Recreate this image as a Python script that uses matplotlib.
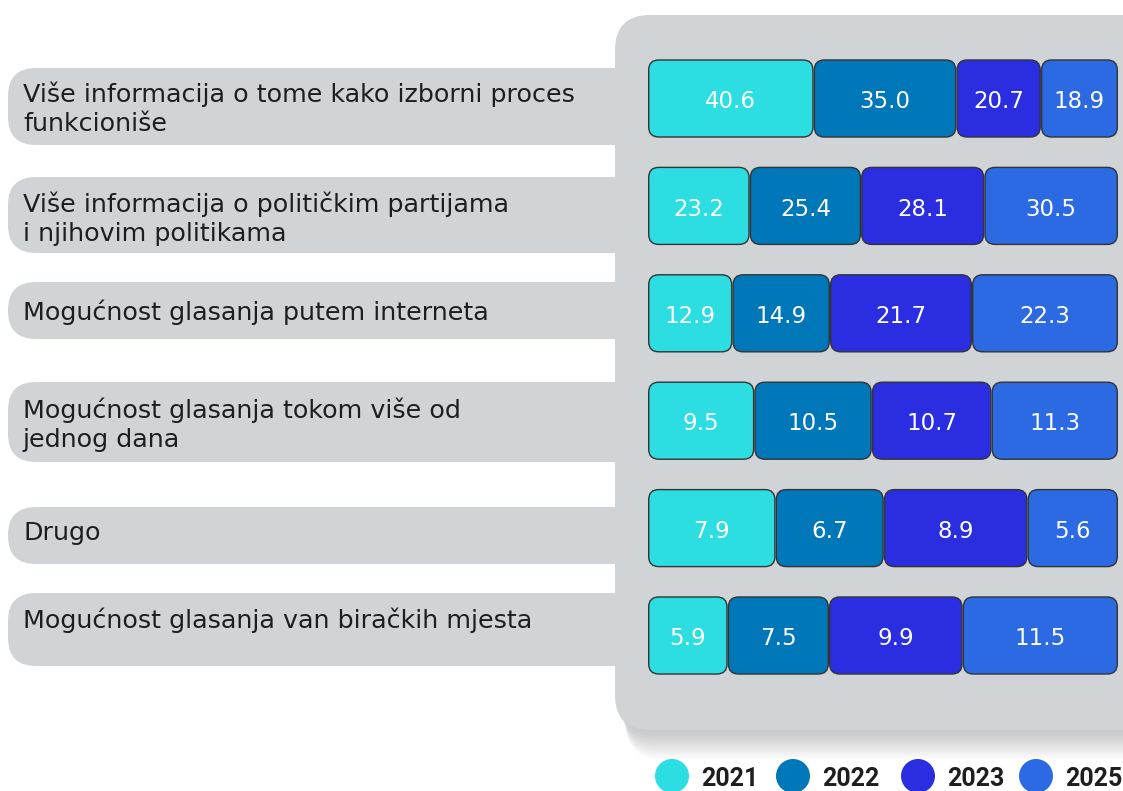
import matplotlib
matplotlib.use("Agg")
import matplotlib.pyplot as plt
from matplotlib.patches import FancyBboxPatch, Circle
import numpy as np

# ---------------- data ----------------
categories = [
    "Više informacija o tome kako izborni proces\nfunkcioniše",
    "Više informacija o političkim partijama\ni njihovim politikama",
    "Mogućnost glasanja putem interneta",
    "Mogućnost glasanja tokom više od\njednog dana",
    "Drugo",
    "Mogućnost glasanja van biračkih mjesta",
]
years = ["2021", "2022", "2023", "2025"]
v2021 = [40.6, 23.2, 12.9, 9.5, 7.9, 5.9]
v2022 = [35.0, 25.4, 14.9, 10.5, 6.7, 7.5]
v2023 = [20.7, 28.1, 21.7, 10.7, 8.9, 9.9]
v2025 = [18.9, 30.5, 22.3, 11.3, 5.6, 11.5]

# ---------------- style ----------------
colors = ["#2CDDE1", "#0077B8", "#2A2EE0", "#2C6AE4"]
panel_gray = "#D0D4D6"
font = "DejaVu Sans"
W, H = 1123, 791

fig = plt.figure(figsize=(W / 100, H / 100), dpi=100)
fig.patch.set_facecolor("white")

bg = fig.add_axes([0, 0, 1, 1])
bg.set_xlim(0, W)
bg.set_ylim(H, 0)
bg.axis("off")

# shadow under the panel
for k in range(1, 31):
    bg.add_patch(FancyBboxPatch((618 + k * 0.3, 20 + k), 600, 710,
                                boxstyle="round,pad=0,rounding_size=35",
                                facecolor="#9aa0a4", edgecolor="none",
                                alpha=0.018, zorder=1))
# panel
bg.add_patch(FancyBboxPatch((615, 15), 600, 715,
                            boxstyle="round,pad=0,rounding_size=35",
                            facecolor=panel_gray, edgecolor="none", zorder=2))

# label pills (decoration) : (top, height, text centre y)
pills = [(68, 77, 109), (177, 76, 219), (282, 57, 312),
         (382, 80, 425), (507, 57, 533), (593, 73, 620)]
for (top, h, ty), lab in zip(pills, categories):
    bg.add_patch(FancyBboxPatch((8, top), 660, h,
                                boxstyle=f"round,pad=0,rounding_size={min(28, h/2)}",
                                facecolor=panel_gray, edgecolor="none", zorder=2))
    bg.text(23, ty, lab, fontsize=18.3, family=font, color="#1e1e1e",
            ha="left", va="center", linespacing=1.25, zorder=3)

# ---------------- bars ----------------
ax_left, ax_w = 648, 470
row_top, row_bot = 44.8, 689.2
ax = fig.add_axes([ax_left / W, 1 - row_bot / H, ax_w / W, (row_bot - row_top) / H])
ax.set_xlim(0, 100)
ax.set_ylim(len(categories) - 0.5, -0.5)
ax.axis("off")

vals = np.array([v2021, v2022, v2023, v2025], dtype=float)
pct = vals / vals.sum(axis=0) * 100
bar_h = 0.717
gap = 0.3
xpx = ax_w / 100.0
ypx = (row_bot - row_top) / len(categories)
aspect = xpx / ypx
rs = 10 / xpx

for i in range(len(categories)):
    left = 0.0
    for j in range(len(years)):
        w = pct[j, i]
        x0 = left + gap / 2
        ax.add_patch(FancyBboxPatch((x0, i - bar_h / 2), w - gap, bar_h,
                                    boxstyle=f"round,pad=0,rounding_size={rs}",
                                    mutation_aspect=aspect,
                                    facecolor=colors[j], edgecolor="#333333",
                                    linewidth=1.0, zorder=3))
        ax.text(left + w / 2, i + 0.03, f"{vals[j, i]:.1f}", color="white",
                fontsize=16.5, family=font, ha="center", va="center", zorder=4)
        left += w

# ---------------- legend ----------------
leg_cx = [672, 793, 918, 1036]
for cx, c, y in zip(leg_cx, colors, years):
    bg.add_patch(Circle((cx, 776), 17, facecolor=c, edgecolor="none", zorder=3))
    bg.text(cx + 29, 779, y, fontsize=18, family="Roboto", fontweight="bold",
            color="#1e1e1e", ha="left", va="center", zorder=3)

fig.savefig("out.png", dpi=100, facecolor="white")
